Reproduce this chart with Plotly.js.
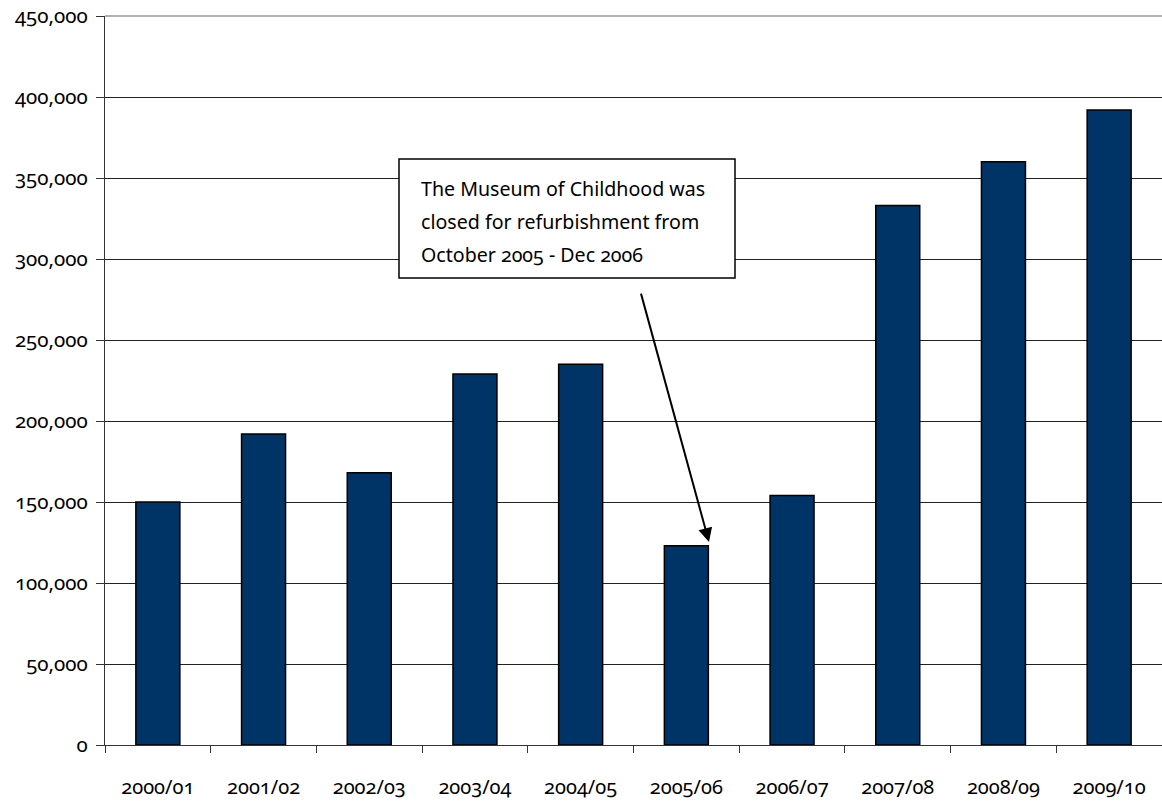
<!DOCTYPE html>
<html>
<head>
<meta charset="utf-8">
<script src="https://cdn.plot.ly/plotly-3.0.1.min.js"></script>
<style>
  html, body { margin: 0; padding: 0; background: #fff; }
  #chart { width: 1162px; height: 803px; }
  svg text { font-feature-settings: "onum" 1; font-variant-numeric: oldstyle-nums; }
</style>
</head>
<body>
<div id="chart"></div>
<script>
const categories = ["2000/01", "2001/02", "2002/03", "2003/04", "2004/05", "2005/06", "2006/07", "2007/08", "2008/09", "2009/10"];
const visitors = [150000, 192000, 168000, 229000, 235000, 123000, 154000, 333000, 360000, 392000];
const yTicks = [0, 50000, 100000, 150000, 200000, 250000, 300000, 350000, 400000, 450000];
const noteLines = [
  "The Museum of Childhood was",
  "closed for refurbishment from",
  "October 2005 - Dec 2006"
];

const FONT = "'Noto Sans', 'Open Sans', sans-serif";

const trace = {
  type: "bar",
  x: categories,
  y: visitors,
  marker: { color: "#003366", line: { color: "#000000", width: 1.5 } },
  hoverinfo: "x+y"
};

const plotL = 105, plotR = 1162, plotT = 16, plotB = 745;
const px = v => (v - plotL) / (plotR - plotL);
const py = v => (plotB - v) / (plotB - plotT);

const lineYs = [188, 221, 254];
const annotations = noteLines.map((t, i) => ({
  xref: "paper", yref: "paper",
  x: px(419), y: py(lineYs[i]),
  xanchor: "left", yanchor: "middle",
  text: t, showarrow: false,
  font: { family: FONT, size: 19.6, color: "#000" }
}));
annotations.push({
  xref: "paper", yref: "paper",
  x: px(709), y: py(542),
  ax: -72, ay: -263,
  text: " ", showarrow: true,
  arrowhead: 2, arrowsize: 1.4, arrowwidth: 2, arrowcolor: "#000",
  standoff: 0, startstandoff: 0
});

const layout = {
  width: 1162, height: 803,
  margin: { l: plotL, r: 1162 - plotR, t: plotT, b: 803 - plotB },
  paper_bgcolor: "#fff", plot_bgcolor: "#fff",
  showlegend: false,
  bargap: 0.584,
  font: { family: FONT, size: 20, color: "#000" },
  xaxis: {
    type: "category",
    tickson: "boundaries",
    ticks: "outside", ticklen: 7, tickwidth: 1, tickcolor: "#333",
    showline: true, linecolor: "#333", linewidth: 1.2,
    showgrid: false,
    ticklabelstandoff: 24,
    tickfont: { family: FONT, size: 20, color: "#000" },
    fixedrange: true
  },
  yaxis: {
    range: [0, 450000],
    tickvals: yTicks,
    tickformat: ",d",
    ticks: "outside", ticklen: 8, tickwidth: 1, tickcolor: "#333",
    showline: true, linecolor: "#333", linewidth: 1.2,
    showgrid: true, gridcolor: "#222", gridwidth: 1,
    zeroline: false,
    ticklabelstandoff: 4,
    tickfont: { family: FONT, size: 20.5, color: "#000" },
    fixedrange: true
  },
  shapes: [
    {
      type: "line", xref: "paper", yref: "paper",
      x0: 0, x1: 1, y0: 1, y1: 1,
      line: { color: "#999", width: 1.5 }
    },
    {
      type: "rect", xref: "paper", yref: "paper",
      x0: px(399), x1: px(735), y0: py(278), y1: py(159),
      fillcolor: "#fff",
      line: { color: "#000", width: 1.5 },
      layer: "above"
    }
  ],
  annotations: annotations
};

Plotly.newPlot("chart", [trace], layout, { displayModeBar: false, staticPlot: true });
</script>
</body>
</html>
